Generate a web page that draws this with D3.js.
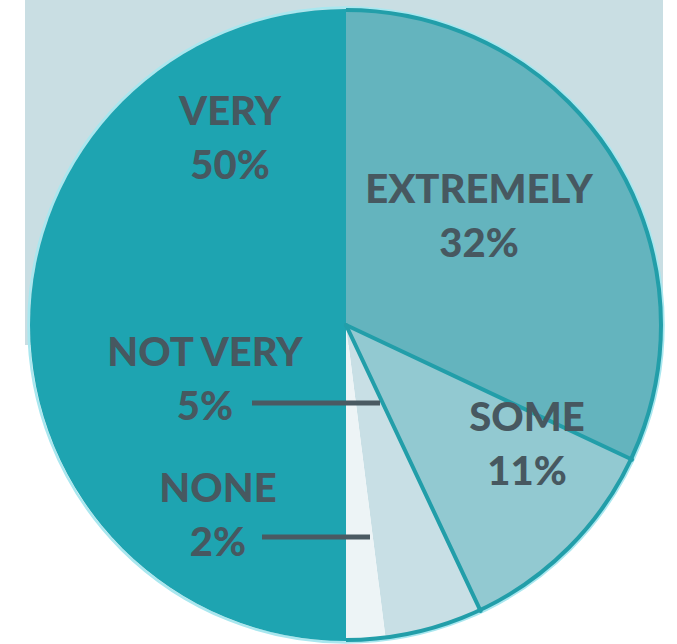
<!DOCTYPE html>
<html>
<head>
<meta charset="utf-8">
<script src="https://cdn.jsdelivr.net/npm/d3@7"></script>
<style>
  html, body { margin: 0; padding: 0; background: #ffffff; }
  svg { display: block; }
</style>
</head>
<body>
<script>
// ---- data ----
const categories = ["EXTREMELY", "SOME", "NOT VERY", "NONE", "VERY"];
const values = [32, 11, 5, 2, 50];
const valueLabels = ["32%", "11%", "5%", "2%", "50%"];

// ---- styles / layout ----
const W = 677, H = 644;
const cx = 346, cy = 325, R = 316;
const fills = ["#64b4be", "#92c9d1", "#c8dfe5", "#edf4f6", "#1ea4b1"];
const textColor = "#475860";
const labelLayout = {
  "VERY":      { x: 230, y: 125 },
  "EXTREMELY": { x: 479, y: 203 },
  "NOT VERY":  { x: 205, y: 366, leader: [[252, 403], [380, 403]] },
  "NONE":      { x: 218, y: 502, leader: [[262, 537], [370, 537]] },
  "SOME":      { x: 527, y: 431 }
};
const lineGap = 54;

const svg = d3.select("body").append("svg")
  .attr("width", W).attr("height", H);

// background panel
svg.append("rect")
  .attr("x", 25).attr("y", 0)
  .attr("width", 638).attr("height", 345)
  .attr("fill", "#c9dee3");

const g = svg.append("g").attr("transform", `translate(${cx},${cy})`);

// soft halo around pie
g.append("circle").attr("r", R + 1.5)
  .attr("fill", "none").attr("stroke", "#a9e7ef").attr("stroke-width", 2.5);

const pie = d3.pie().sort(null).value(d => d).startAngle(0).endAngle(2 * Math.PI);
const arcs = pie(values);
const arc = d3.arc().innerRadius(0).outerRadius(R);

g.selectAll("path.slice")
  .data(arcs)
  .join("path")
  .attr("class", "slice")
  .attr("d", arc)
  .attr("fill", (d, i) => fills[i]);

// outline of the right half
const strokeColor = "#229ea9";
g.append("path")
  .attr("d", d3.arc()({ innerRadius: R - 1, outerRadius: R - 1, startAngle: arcs[0].startAngle, endAngle: arcs[3].endAngle }))
  .attr("fill", "none")
  .attr("stroke", strokeColor)
  .attr("stroke-width", 4);

// radial separators between EXTREMELY/SOME and SOME/NOT VERY
[arcs[0].endAngle, arcs[1].endAngle].forEach(a => {
  g.append("line")
    .attr("x1", 0).attr("y1", 0)
    .attr("x2", R * Math.sin(a)).attr("y2", -R * Math.cos(a))
    .attr("stroke", strokeColor)
    .attr("stroke-width", 4)
    .attr("stroke-linecap", "round");
});

// labels
categories.forEach((c, i) => {
  const L = labelLayout[c];
  const t = svg.append("text")
    .attr("text-anchor", "middle")
    .attr("font-family", "Lato, 'Open Sans', sans-serif")
    .attr("font-weight", 900)
    .attr("font-size", 40)
    .attr("fill", textColor);
  t.append("tspan").attr("x", L.x).attr("y", L.y).text(c);
  t.append("tspan").attr("x", L.x).attr("y", L.y + lineGap).text(valueLabels[i]);
  if (L.leader) {
    svg.append("line")
      .attr("x1", L.leader[0][0]).attr("y1", L.leader[0][1])
      .attr("x2", L.leader[1][0]).attr("y2", L.leader[1][1])
      .attr("stroke", "#4a5a62")
      .attr("stroke-width", 5);
  }
});
</script>
</body>
</html>
